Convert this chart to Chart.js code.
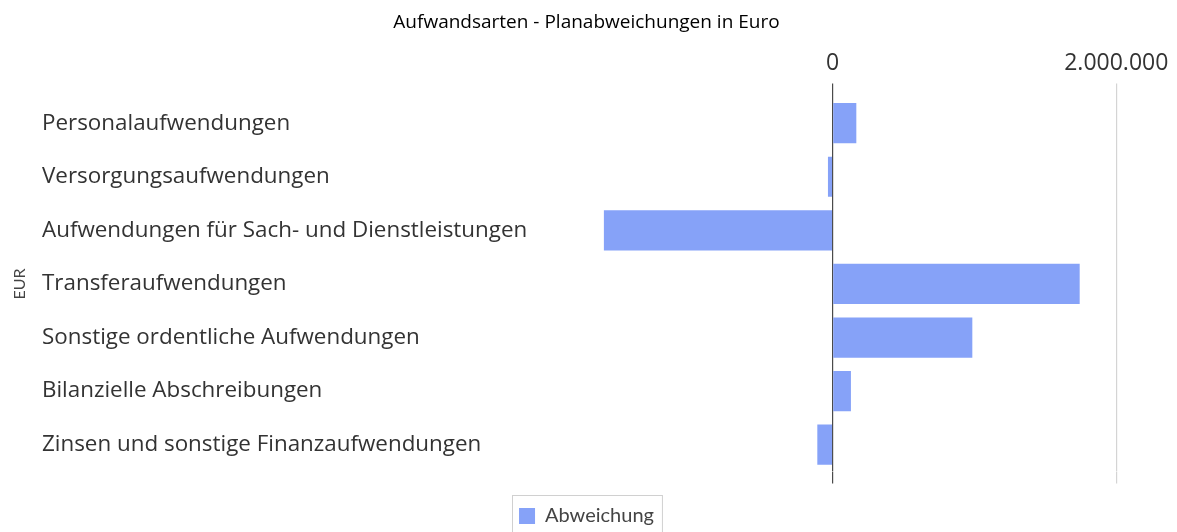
<!DOCTYPE html>
<html lang="de">
<head>
    <meta charset="UTF-8">
    <title>Aufwandsarten - Planabweichungen in Euro</title>
    <script src="https://cdn.jsdelivr.net/npm/chart.js"></script>
    <style>
        html, body {
            margin: 0;
            padding: 0;
            background: #ffffff;
        }
        .chart-box {
            width: 1177px;
            height: 532px;
        }
    </style>
</head>
<body>
    <div class="chart-box">
        <canvas id="deviationChart"></canvas>
    </div>

    <script>
        // Kategorien und Werte
        const categories = [
            'Personalaufwendungen',
            'Versorgungsaufwendungen',
            'Aufwendungen für Sach- und Dienstleistungen',
            'Transferaufwendungen',
            'Sonstige ordentliche Aufwendungen',
            'Bilanzielle Abschreibungen',
            'Zinsen und sonstige Finanzaufwendungen'
        ];
        const deviations = [167000, -33000, -1613000, 1742000, 985000, 129000, -108000];
        const tickValues = [0, 2000000];
        const axisMin = -2000000;
        const axisMax = 2400000;

        const barColor = '#86a2f8';

        // only keep the ticks that are labelled in the original
        function keepTicks(scale) {
            scale.ticks = tickValues.map(v => ({ value: v }));
        }

        function gridColor(ctx) {
            return ctx.tick && ctx.tick.value === 0 ? '#4a4a4a' : '#d4d4d4';
        }

        // thin border around the legend, like in the original
        const legendFrame = {
            id: 'legendFrame',
            afterDraw(chart) {
                const boxes = chart.legend && chart.legend.legendHitBoxes;
                if (!boxes || !boxes.length) return;
                const hb = boxes[0];
                const c = chart.ctx;
                c.save();
                c.strokeStyle = '#d0d0d0';
                c.lineWidth = 1;
                c.strokeRect(Math.round(hb.left - 7) + 0.5, Math.round(hb.top - 11) + 0.5, hb.width + 15, 50);
                c.restore();
            }
        };

        const ctx = document.getElementById('deviationChart').getContext('2d');
        const deviationChart = new Chart(ctx, {
            type: 'bar',
            data: {
                labels: categories,
                datasets: [{
                    label: 'Abweichung',
                    data: deviations,
                    backgroundColor: barColor,
                    borderWidth: 0,
                    categoryPercentage: 1.0,
                    barPercentage: 0.75
                }]
            },
            options: {
                indexAxis: 'y',
                responsive: true,
                maintainAspectRatio: false,
                animation: false,
                layout: {
                    padding: { left: 0, right: 4, top: 0, bottom: -4 }
                },
                scales: {
                    x: {
                        type: 'linear',
                        position: 'top',
                        min: axisMin,
                        max: axisMax,
                        afterBuildTicks: keepTicks,
                        border: { display: false },
                        grid: {
                            color: gridColor,
                            lineWidth: 1.2,
                            tickLength: 13
                        },
                        ticks: {
                            padding: 6,
                            color: '#333333',
                            font: { family: 'Open Sans', size: 23 },
                            callback: v => v.toLocaleString('de-DE')
                        }
                    },
                    x2: {
                        type: 'linear',
                        axis: 'x',
                        position: 'bottom',
                        min: axisMin,
                        max: axisMax,
                        afterBuildTicks: keepTicks,
                        border: { display: false },
                        grid: {
                            color: gridColor,
                            lineWidth: 1.2,
                            drawOnChartArea: false,
                            tickLength: 12
                        },
                        ticks: { display: false },
                        title: {
                            display: true,
                            text: '',
                            font: { size: 10 },
                            padding: { top: 7.5, bottom: 2 }
                        }
                    },
                    y: {
                        border: { display: false },
                        grid: { display: false },
                        afterFit: scale => { scale.width = 507; },
                        ticks: {
                            crossAlign: 'far',
                            color: '#333333',
                            font: { family: 'Open Sans', size: 22.4 }
                        }
                    },
                    // outer axis that only carries the "EUR" title
                    yTitle: {
                        type: 'category',
                        axis: 'y',
                        position: 'left',
                        weight: 1,
                        border: { display: false },
                        grid: { display: false },
                        ticks: { display: false },
                        afterFit: scale => { scale.width = 42; },
                        title: {
                            display: true,
                            text: 'EUR',
                            color: '#444444',
                            font: { family: 'Lato', size: 16 },
                            padding: { top: 10, bottom: 0 }
                        }
                    }
                },
                plugins: {
                    title: {
                        display: true,
                        text: 'Aufwandsarten - Planabweichungen in Euro',
                        color: '#000000',
                        font: { family: 'Open Sans', size: 19, weight: 'normal' },
                        padding: { top: 11, bottom: 10 }
                    },
                    legend: {
                        position: 'bottom',
                        labels: {
                            boxWidth: 16,
                            boxHeight: 16,
                            padding: 1,
                            color: '#444444',
                            font: { family: 'Lato', size: 20 }
                        }
                    },
                    tooltip: { enabled: false }
                }
            },
            plugins: [legendFrame]
        });
    </script>
</body>
</html>
